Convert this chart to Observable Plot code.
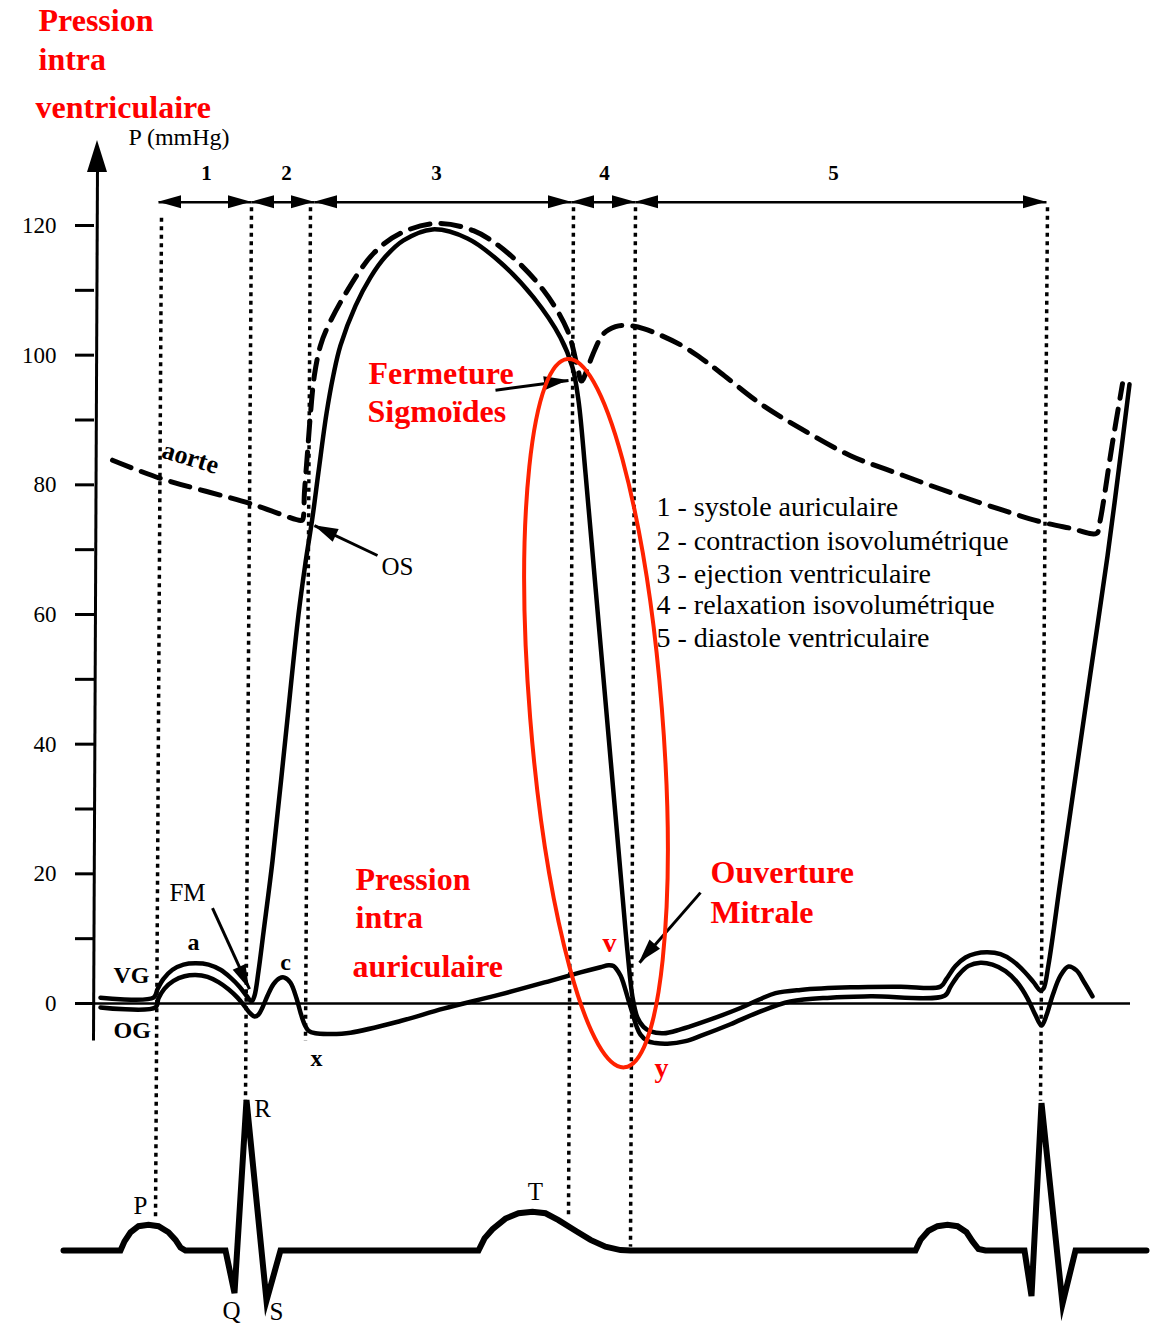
<!DOCTYPE html>
<html lang="fr">
<head>
<meta charset="utf-8">
<script src="https://cdn.jsdelivr.net/npm/d3@7"></script>
<script src="https://cdn.jsdelivr.net/npm/@observablehq/plot@0.6"></script>
<style>html,body{margin:0;padding:0;background:#fff;}</style>
</head>
<body>
<div id="chart"></div>
<script>
// ---------- data (t = time units across the cycle, P = mmHg) ----------
const yTicks = [0, 10, 20, 30, 40, 50, 60, 70, 80, 90, 100, 110, 120];
const yTickLabels = [0, 20, 40, 60, 80, 100, 120];

// ventricular pressure (VG)
const vg = [[100,0.9],[153,0.9],[157,2.2],[163,3.8],[172,5.2],[183,6.0],[195,6.2],[208,6.0],[220,5.2],[230,4.0],[239,2.6],[246,1.2],[251,0.3],[254,1.2],[258,5],[263,11],[272,22],[285,41],[298,60],[305,68],[312,75],[318,82],[326,91],[333,97],[340,101.5],[355,107.6],[370,112],[385,115.2],[403,117.7],[432,119.4],[467,118],[500,114.3],[533,108.9],[560,102.7],[572,98.1],[578,93],[585,81.8],[595,64.2],[605,46.6],[615,29],[622,16.6],[627,8],[632,1],[637,-2.2],[643,-3.6],[650,-4.3],[663,-4.6],[680,-4.0],[700,-3.0],[740,-0.7],[760,0.7],[775,1.6],[800,2.1],[850,2.5],[900,2.6],[940,2.6],[946,3.8],[955,5.8],[965,7.1],[975,7.7],[987,7.9],[1000,7.6],[1012,6.6],[1024,4.9],[1033,3.3],[1040,2.0],[1043,2.3],[1048,6],[1060,19],[1075,35],[1090,51],[1107,69],[1118,82],[1129,95.5]];

// atrial pressure (OG)
const og = [[100,-0.6],[155,-0.6],[158,0.8],[164,2.3],[173,3.5],[184,4.2],[195,4.4],[207,4.1],[218,3.3],[228,2.2],[237,0.9],[244,-0.4],[249,-1.4],[254,-2.0],[258,-1.7],[262,-0.6],[267,1.2],[273,3.0],[279,3.9],[284,4.0],[290,3.2],[296,0.8],[300,-1.4],[304,-3.2],[308,-4.2],[315,-4.6],[330,-4.7],[350,-4.5],[400,-2.7],[443,-0.8],[500,1.4],[550,3.5],[580,4.8],[600,5.6],[608,5.9],[613,5.8],[616,5.3],[620,4.3],[623,3.1],[628,0.5],[632,-1.5],[636,-3.5],[640,-4.8],[647,-5.8],[655,-6.1],[667,-6.2],[685,-5.8],[700,-5.0],[730,-3.2],[757,-1.4],[790,0.3],[830,0.9],[870,1.1],[944,1.2],[950,2.6],[958,4.4],[968,5.8],[980,6.3],[992,6.0],[1005,5.0],[1017,3.2],[1027,0.8],[1035,-1.8],[1041,-3.4],[1046,-1.8],[1052,1.2],[1060,4.3],[1068,5.7],[1076,5.1],[1084,3.2],[1092,1.1]];

// aortic pressure (dashed)
const aorta = [[112,83.8],[160,81.0],[250,77.1],[300,74.5],[302,74.6],[304,79],[307,85],[310,91],[314,97],[320,101.5],[327,104.3],[347,110],[373,115.7],[400,118.8],[435,120.3],[473,119.2],[507,115.8],[543,110],[567,103.8],[577,98.1],[581,96.0],[586,97.5],[592,100],[603,103.3],[615,104.4],[625,104.6],[643,104.1],[680,101.6],[700,99.6],[720,97.3],[760,92.5],[800,88.7],[850,84.5],[900,81.6],[950,78.8],[1000,76.2],[1040,74.3],[1070,73.3],[1096,72.5],[1099,74],[1112,86.5],[1122,95.6]];

// ECG (mV)
const ecg = [[63,0],[120,0],[124,0.06],[130,0.12],[138,0.16],[148,0.17],[158,0.16],[168,0.12],[175,0.07],[180,0.02],[185,0],[225,0],[234,-0.28],[246,0.99],[266,-0.33],[280,0],[478,0],[484,0.08],[492,0.14],[505,0.21],[518,0.245],[532,0.255],[545,0.245],[558,0.2],[575,0.13],[590,0.07],[605,0.025],[620,0.003],[630,0],[915,0],[920,0.07],[928,0.13],[937,0.16],[947,0.17],[957,0.16],[966,0.12],[972,0.06],[978,0.01],[985,0],[1024,0],[1031,-0.3],[1041,0.97],[1062,-0.35],[1075,0],[1146,0]];

// phase boundaries (times) and phase labels
const phaseBounds = [158, 251, 314, 571, 635, 1046];
const phaseNames = ["1", "2", "3", "4", "5"];
const phaseLabelT = [206, 286, 436, 604, 833];

// dotted markers: top time, bottom time, bottom level
const markTop = [161, 251, 310, 573, 635, 1047];
const markBottom = [155, 245, 305, 568, 630, 1040];
const markEnd = [-33.5, -15, -5.7, -33, -37.5, -15];

const legendLines = ["1 - systole auriculaire", "2 - contraction isovolumétrique", "3 - ejection ventriculaire", "4 - relaxation isovolumétrique", "5 - diastole ventriculaire"];
const legendP = [76.5, 71.4, 66.3, 61.4, 56.3];

// annotation texts [text, t, P]
const redTexts = [["Pression",38,151.6],["intra",38,145.5],["ventriculaire",35,138.1],["Fermeture",368,97.2],["Sigmoïdes",367,91.2],["Pression",355,19.1],["intra",355,13.3],["auriculaire",352,5.6],["Ouverture",710,20.1],["Mitrale",710,14.0]];
const redLetters = [["v",609,9.3],["y",661,-10.0]];
const boldLetters = [["a",193,9.4],["c",285,6.3],["x",316,-8.5]];
const sideLabels = [["VG",113,4.3],["OG",113,-4.2]];
const plainLabels = [["FM",187,17.0],["OS",397,67.4],["R",262,-16.2],["P",140,-31.3],["T",535,-29.0],["Q",231,-47.5],["S",276,-47.6]];
// annotation arrows [t1,P1,t2,P2] tail -> tip
const notes = [[212,14.7,249,2.2],[377,69.1,314,73.7],[495,94.6,568,96.1],[700,17.1,639,6.3]];

// ---------- layout constants ----------
const ecgBase = -38.1, ecgGain = 23.45;
const phaseRowP = 123.6;
const serif = "Liberation Serif, Times New Roman, serif";
const ns = "http://www.w3.org/2000/svg";

function triangleHeads(list, len, half) {
  return (index, scales) => {
    const g = document.createElementNS(ns, "g");
    for (const [x1, y1, x2, y2] of list) {
      const X1 = scales.x(x1), Y1 = scales.y(y1), X2 = scales.x(x2), Y2 = scales.y(y2);
      const a = Math.atan2(Y2 - Y1, X2 - X1);
      const bx = X2 - len * Math.cos(a), by = Y2 - len * Math.sin(a);
      const px = -Math.sin(a) * half, py = Math.cos(a) * half;
      const p = document.createElementNS(ns, "path");
      p.setAttribute("d", `M${X2},${Y2}L${bx + px},${by + py}L${bx - px},${by - py}Z`);
      p.setAttribute("fill", "black");
      g.appendChild(p);
    }
    return g;
  };
}

function ellipseMark(cT, cP, rT, rP, angle) {
  return (index, scales) => {
    const cx = scales.x(cT), cy = scales.y(cP);
    const rx = Math.abs(scales.x(cT + rT) - cx), ry = Math.abs(scales.y(cP + rP) - cy);
    const e = document.createElementNS(ns, "ellipse");
    e.setAttribute("cx", cx); e.setAttribute("cy", cy);
    e.setAttribute("rx", rx); e.setAttribute("ry", ry);
    e.setAttribute("transform", `rotate(${angle},${cx},${cy})`);
    e.setAttribute("fill", "none");
    e.setAttribute("stroke", "#ff2200");
    e.setAttribute("stroke-width", 4);
    return e;
  };
}

const segs = phaseBounds.slice(0, -1).map((s, i) => ({s, e: phaseBounds[i + 1]}));
const phaseHeads = [];
for (const {s, e} of segs) {
  phaseHeads.push([e, phaseRowP, s, phaseRowP]);
  phaseHeads.push([s, phaseRowP, e, phaseRowP]);
}
const marks = markTop.map((t, i) => ({t1: t, t2: markBottom[i], p1: i === 0 ? 121.2 : 122.8, p2: markEnd[i]}));

const txt = (arr, o) => Plot.text(arr, {x: d => d[1], y: d => d[2], text: d => d[0], fontFamily: serif, lineAnchor: "middle", ...o});

const chart = Plot.plot({
  width: 1154,
  height: 1324,
  margin: 0,
  x: {domain: [0, 1154], range: [0, 1154], axis: null},
  y: {domain: [0, 120], range: [1003, 225], axis: null},
  style: {background: "white", fontFamily: serif, overflow: "visible"},
  marks: [
    // dotted phase markers
    Plot.link(marks, {x1: "t1", y1: "p1", x2: "t2", y2: "p2", stroke: "black", strokeWidth: 3.5, strokeDasharray: "4,4.5"}),
    // phase arrows
    Plot.link(segs, {x1: "s", x2: "e", y1: phaseRowP, y2: phaseRowP, stroke: "black", strokeWidth: 2.5}),
    triangleHeads(phaseHeads, 23, 6.5),
    Plot.text(phaseNames, {x: (d, i) => phaseLabelT[i], y: 128.1, text: d => d, fontFamily: serif, fontWeight: "bold", fontSize: 21}),
    // y axis
    Plot.link([0], {x1: 93, y1: -5.7, x2: 97, y2: 129, stroke: "black", strokeWidth: 3}),
    triangleHeads([[97, 120, 97, 133.1]], 32, 10),
    Plot.ruleY(yTicks, {x1: 75, x2: 94, stroke: "black", strokeWidth: 3}),
    Plot.text(yTickLabels, {x: 56, y: d => d, text: d => String(d), textAnchor: "end", fontFamily: serif, fontSize: 23}),
    Plot.text(["P (mmHg)"], {x: 128, y: 133.6, text: d => d, textAnchor: "start", fontFamily: serif, fontSize: 24}),
    // zero line
    Plot.ruleY([0], {x1: 93, x2: 1130, stroke: "black", strokeWidth: 2.5}),
    // pressure curves
    Plot.line(aorta, {x: d => d[0], y: d => d[1], stroke: "black", strokeWidth: 5, strokeDasharray: "20,11", curve: "catmull-rom"}),
    Plot.line(og, {x: d => d[0], y: d => d[1], stroke: "black", strokeWidth: 4.5, curve: "catmull-rom"}),
    Plot.line(vg, {x: d => d[0], y: d => d[1], stroke: "black", strokeWidth: 4.5, curve: "catmull-rom"}),
    // ECG
    Plot.line(ecg, {x: d => d[0], y: d => ecgBase + ecgGain * d[1], stroke: "black", strokeWidth: 6, curve: "linear", strokeLinejoin: "miter", strokeMiterlimit: 6}),
    // annotation arrows
    Plot.link(notes, {x1: d => d[0], y1: d => d[1], x2: d => d[2], y2: d => d[3], stroke: "black", strokeWidth: 3}),
    triangleHeads(notes, 24, 7),
    // labels
    txt(redTexts, {textAnchor: "start", fontSize: 32, fontWeight: "bold", fill: "#ff0000"}),
    txt(redLetters, {textAnchor: "middle", fontSize: 28, fontWeight: "bold", fill: "#ff0000"}),
    txt(boldLetters, {textAnchor: "middle", fontSize: 24, fontWeight: "bold", fill: "black"}),
    txt(sideLabels, {textAnchor: "start", fontSize: 24, fontWeight: "bold", fill: "black"}),
    txt(plainLabels, {textAnchor: "middle", fontSize: 25, fill: "black"}),
    Plot.text(["aorte"], {x: 190, y: 84.2, text: d => d, rotate: 17, fontFamily: serif, fontWeight: "bold", fontSize: 26}),
    Plot.text(legendLines, {x: 656, y: (d, i) => legendP[i], text: d => d, textAnchor: "start", fontFamily: serif, fontSize: 28}),
    // red ellipse
    ellipseMark(596, 44.7, 66, 54.8, -4.6)
  ]
});
document.getElementById("chart").appendChild(chart);
</script>
</body>
</html>
